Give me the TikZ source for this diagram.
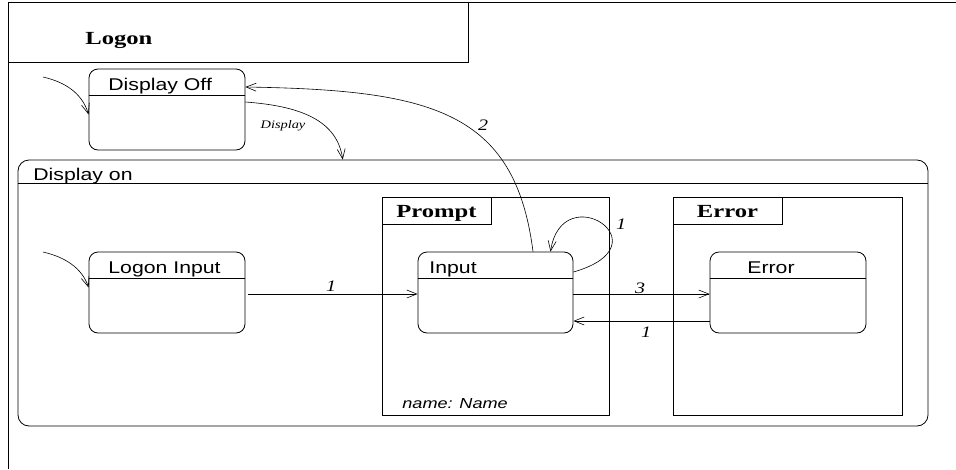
\documentclass[tikz,border=0pt]{standalone}
\usepackage{fontspec}
\setmainfont{Liberation Serif}[FakeStretch=1.25]
\setsansfont{Liberation Sans}[FakeStretch=1.25]
\newfontfamily\tagfont{Liberation Serif}[FakeStretch=1.33]
\usetikzlibrary{arrows.meta,positioning,calc}

\begin{document}
\begin{tikzpicture}[x=1pt, y=-1pt,
    line width=0.8pt,
    state/.style={draw, rounded corners=9pt, minimum width=156pt,
                  minimum height=81pt, inner sep=0pt},
    sname/.style={anchor=base west, inner sep=0pt,
                  font=\sffamily\fontsize{17}{17}\selectfont},
    region/.style={draw, inner sep=0pt},
    tag/.style={draw, inner sep=0pt, minimum width=109pt, minimum height=27pt,
                text height=15pt, text depth=2pt,
                font=\tagfont\bfseries\fontsize{18.5}{18.5}\selectfont},
    trans/.style={-{Straight Barb[length=10pt,width=8pt]}, line width=0.6pt},
    num/.style={inner sep=0pt, font=\itshape\fontsize{16}{16}\selectfont}
]
\useasboundingbox (0,0) rectangle (956,469);

% outer frame and title
\draw (8,469) -- (8,2) -- (956,2);
\node[region, minimum width=460pt, minimum height=60pt] (title) at (238,32) {};
\node[anchor=base west, inner sep=0pt,
      font=\tagfont\bfseries\fontsize{18.5}{18.5}\selectfont] (logon) at (85,44) {Logon};

% states and regions
\node[state] (off) at (167,109.5) {};
\node[state, rounded corners=11pt, minimum width=910pt, minimum height=266pt] (on) at (473,293) {};
\node[region, minimum width=227pt, minimum height=218pt] (prompt) at (495.5,306) {};
\node[region, minimum width=229pt, minimum height=218pt] (errbox) at (787.5,306) {};
\node[tag, anchor=north west] (ptag) at (prompt.north west) {Prompt};
\node[tag, anchor=north west] (etag) at (errbox.north west) {Error};
\node[state] (lin) at (167,292.5) {};
\node[state, minimum width=155pt] (inp) at (495.5,292.5) {};
\node[state] (erst) at (788,292.5) {};

\foreach \s in {off,lin,inp,erst}
  \draw ([yshift=-27pt]\s.north west) -- ([yshift=-27pt]\s.north east);
\draw ([yshift=-24pt]on.north west) -- ([yshift=-24pt]on.north east);

\node[sname] (offname) at (108,90) {Display Off};
\node[sname] (onname) at (33,180) {Display on};
\node[sname] (linname) at (108,273) {Logon Input};
\node[sname] (inpname) at (429,273) {Input};
\node[sname] (errname) at (747,273) {Error};
\node[anchor=base west, inner sep=0pt,
      font=\sffamily\itshape\fontsize{14.5}{14.5}\selectfont] (attr) at (402,408) {name: Name};

% transitions
\coordinate (init1) at (43,77);
\coordinate (init2) at (43,252);
\draw[trans] (init1) .. controls (65,82) and (82,93) .. ([yshift=-5pt]off.west);
\draw[trans] (init2) .. controls (65,257) and (82,268) .. ([yshift=5pt]lin.west);
\draw[trans] ([yshift=7.5pt]off.east) .. controls (300,106) and (337,120)
  .. ($(on.north west)!0.357!(on.north east)$);
\draw[trans] ([xshift=37.5pt]inp.north) .. controls (515,110) and (430,90)
  .. ([yshift=22.5pt]off.east);
\draw[trans] ([yshift=20.5pt]inp.east) .. controls (668,245) and (562,176)
  .. ([xshift=55pt]inp.north);
\draw[trans, shorten <=3pt] ([yshift=-1.5pt]lin.east) -- ([yshift=-1.5pt]inp.west);
\draw[trans] ([yshift=-1.5pt]inp.east) -- ([yshift=-1.5pt]erst.west);
\draw[trans] ([yshift=-28.5pt]erst.west) -- ([yshift=-28.5pt]inp.east);

% labels
\node[inner sep=0pt, font=\itshape\fontsize{11.5}{11.5}\selectfont] (evdisp) at (283,126) {Display};
\node[num] (n2) at (483,125) {2};
\node[num] (nloop) at (621,224) {1};
\node[num] (n1) at (331,286) {1};
\node[num] (n3) at (640,288) {3};
\node[num] (nback) at (646,332) {1};
\end{tikzpicture}
\end{document}
